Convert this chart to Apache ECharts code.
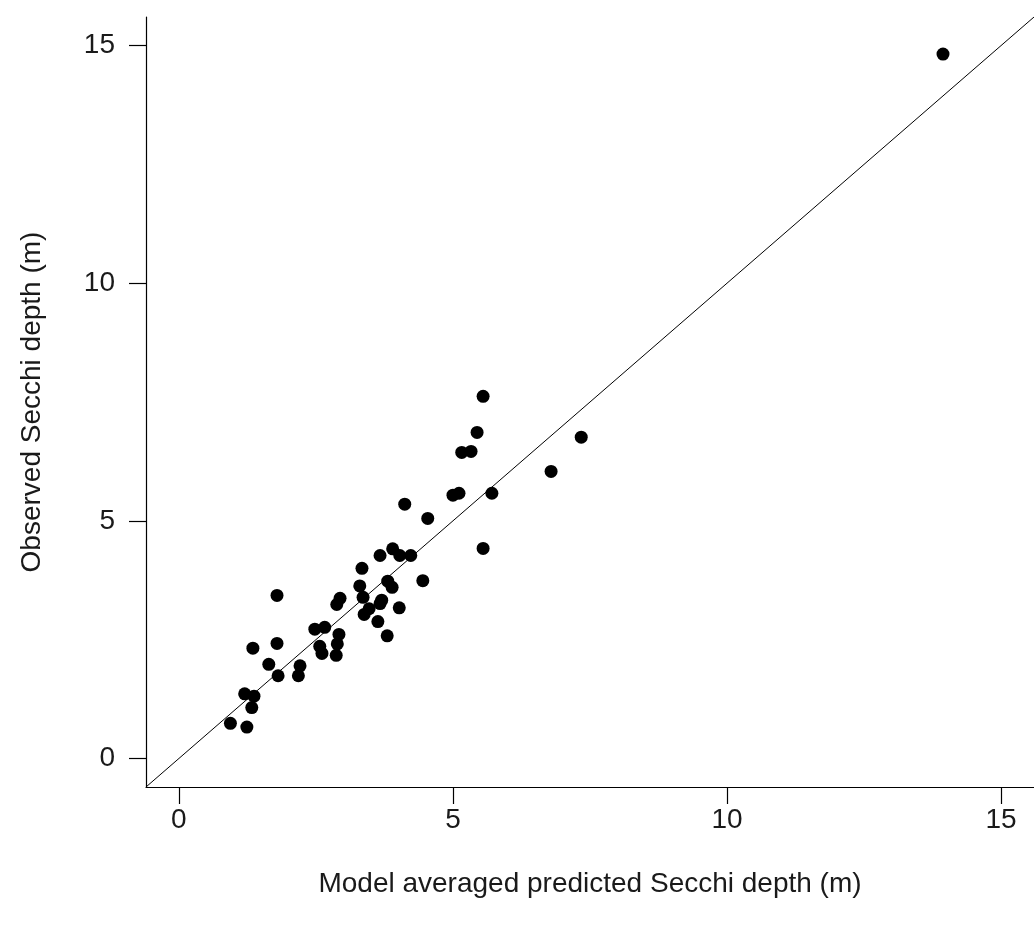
<!DOCTYPE html>
<html>
<head>
<meta charset="utf-8">
<title>Observed vs predicted Secchi depth</title>
<script src="https://cdn.jsdelivr.net/npm/echarts@6/dist/echarts.min.js"></script>
<style>
  html, body { margin: 0; padding: 0; background: #fff; }
  #chart { width: 1034px; height: 930px; }
</style>
</head>
<body>
<div id="chart"></div>
<script>
// model averaged predicted Secchi depth (m)
const predicted = [
  13.94, 5.55, 7.34, 5.44, 5.16, 5.33, 6.79, 5.00, 5.11, 5.71,
  4.12, 4.54, 5.55, 3.67, 3.90, 4.03, 4.23, 3.34, 3.30, 4.45,
  3.81, 3.89, 2.94, 2.88, 3.36, 3.70, 3.67, 4.02, 3.47, 3.38,
  3.63, 2.48, 2.66, 2.92, 3.80, 1.79, 2.57, 2.61, 2.89, 2.87,
  1.35, 1.79, 1.64, 1.81, 2.21, 2.18, 1.20, 1.37, 1.33, 0.94,
  1.24
];
// observed Secchi depth (m)
const observed = [
  14.82, 7.62, 6.76, 6.86, 6.44, 6.46, 6.04, 5.54, 5.58, 5.58,
  5.35, 5.05, 4.42, 4.27, 4.41, 4.27, 4.27, 4.00, 3.63, 3.74,
  3.73, 3.60, 3.37, 3.24, 3.39, 3.33, 3.26, 3.17, 3.15, 3.03,
  2.88, 2.72, 2.76, 2.61, 2.58, 3.43, 2.36, 2.21, 2.41, 2.17,
  2.32, 2.42, 1.98, 1.74, 1.95, 1.74, 1.36, 1.31, 1.07, 0.74,
  0.66
];
const tickValues = [0, 5, 10, 15];
const axisMin = -0.6;
const axisMax = 15.6;

const points = predicted.map((x, i) => [x, observed[i]]);

const chart = echarts.init(document.getElementById("chart"));

const fontFamily = "Liberation Sans, Arial, sans-serif";
const textColor = "#1a1a1a";

function axisStyle(name, nameGap) {
  return {
    type: "value",
    min: axisMin,
    max: axisMax,
    name: name,
    nameLocation: "middle",
    nameGap: nameGap,
    nameTextStyle: {
      color: textColor,
      fontSize: 28,
      fontFamily: fontFamily
    },
    axisLine: {
      show: true,
      onZero: false,
      lineStyle: { color: "#000", width: 1.2 }
    },
    axisTick: {
      show: true,
      inside: false,
      length: 17,
      customValues: tickValues,
      lineStyle: { color: "#000", width: 1.2 }
    },
    axisLabel: {
      customValues: tickValues,
      color: textColor,
      fontSize: 28,
      fontFamily: fontFamily
    },
    splitLine: { show: false }
  };
}

const xAxis = axisStyle("Model averaged predicted Secchi depth (m)", 83);
xAxis.axisLabel.margin = 19;
const yAxis = axisStyle("Observed Secchi depth (m)", 100);
yAxis.axisLabel.margin = 31;

chart.setOption({
  animation: false,
  backgroundColor: "#fff",
  grid: {
    left: 146,
    right: 0,
    top: 17,
    bottom: 143
  },
  xAxis: xAxis,
  yAxis: yAxis,
  series: [
    {
      // 1:1 line
      type: "line",
      data: [[axisMin, axisMin], [axisMax, axisMax]],
      symbol: "none",
      lineStyle: { color: "#000", width: 1 },
      z: 1
    },
    {
      type: "scatter",
      data: points,
      symbol: "circle",
      symbolSize: 13,
      itemStyle: { color: "#000", opacity: 1 },
      z: 2
    }
  ]
});
</script>
</body>
</html>
